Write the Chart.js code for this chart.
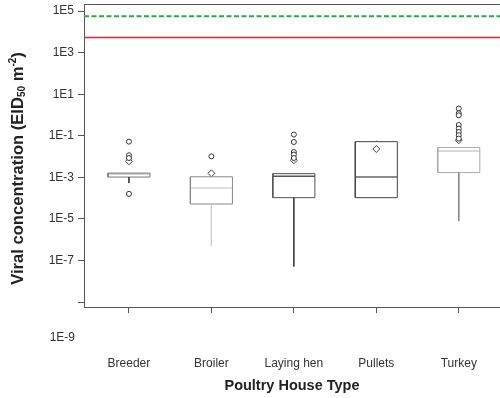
<!DOCTYPE html>
<html>
<head>
<meta charset="utf-8">
<script src="https://cdn.jsdelivr.net/npm/chart.js@4.4.0/dist/chart.umd.min.js"></script>
<style>
  html, body { margin: 0; padding: 0; background: #fff; }
  #wrap { width: 500px; height: 398px; position: relative; }
</style>
</head>
<body>
<div id="wrap"><canvas id="boxChart"></canvas></div>
<script>
// values (EID50 per m2)
const houseTypes = ['Breeder', 'Broiler', 'Laying hen', 'Pullets', 'Turkey'];
const q1 = [1.03e-3, 5.2e-5, 1.05e-4, 1.05e-4, 1.69e-3];
const q3 = [1.6e-3, 1.06e-3, 1.5e-3, 0.052, 0.027];
const medians = [1.45e-3, 3.05e-4, 1.12e-3, 1.03e-3, 0.0185];
const whiskerLow = [5.3e-4, 4.9e-7, 5.1e-8, 1.05e-4, 7.8e-6];
const whiskerHigh = [1.6e-3, 1.06e-3, 1.5e-3, 0.059, 0.027];
const means = [0.0059, 1.56e-3, 0.0066, 0.023, 0.061];
const outliers = [
    [0.052, 0.0115, 0.0085, 1.6e-4],
    [0.0102],
    [0.114, 0.05, 0.0165, 0.0124, 0.0085],
    [],
    [2.05, 1.2, 0.96, 0.33, 0.22, 0.152, 0.106, 0.073]
];
const greenLevel = 5.6e4;
const redLevel = 5.4e3;
const yTicks = [1e-9, 1e-7, 1e-5, 1e-3, 1e-1, 1e1, 1e3, 1e5];

// styling
const boxColor = ['#777', '#888', '#555', '#444', '#aaa'];
const medianColor = ['#ccc', '#d6d6d6', '#555', '#666', '#ccc'];
const whiskerColor = ['#444', '#ccc', '#444', '#666', '#888'];
const halfW = 0.255;
const xMin = -0.545, xMax = 4.5;
const fontFam = '"Liberation Sans", Arial, sans-serif';

const line = (pts, color, width, dash) => ({
    type: 'scatter', showLine: true, data: pts,
    borderColor: color, borderWidth: width || 1, borderDash: dash || [],
    pointRadius: 0, tension: 0, fill: false
});

const datasets = [];
datasets.push(line([{x: xMin, y: greenLevel}, {x: xMax, y: greenLevel}], '#22b046', 2, [5, 2.5]));
datasets.push(line([{x: xMin, y: redLevel}, {x: xMax, y: redLevel}], '#d42a2a', 1.5));

houseTypes.forEach((name, i) => {
    // whiskers
    datasets.push(line([{x: i, y: q1[i]}, {x: i, y: whiskerLow[i]}], whiskerColor[i], 1));
    datasets.push(line([{x: i, y: q3[i]}, {x: i, y: whiskerHigh[i]}], whiskerColor[i], 1));
    // box
    datasets.push(line([
        {x: i - halfW, y: q1[i]}, {x: i + halfW, y: q1[i]},
        {x: i + halfW, y: q3[i]}, {x: i - halfW, y: q3[i]},
        {x: i - halfW, y: q1[i]}
    ], boxColor[i], 1));
    // median
    datasets.push(line([{x: i - halfW, y: medians[i]}, {x: i + halfW, y: medians[i]}], medianColor[i], 1.5));
    // outliers
    datasets.push({
        type: 'scatter',
        data: outliers[i].map(v => ({x: i, y: v})),
        pointStyle: 'circle', pointRadius: 2.5, pointBorderWidth: 1,
        borderColor: '#333', backgroundColor: '#fff'
    });
    // mean
    datasets.push({
        type: 'scatter',
        data: [{x: i, y: means[i]}],
        pointStyle: 'rectRot', pointRadius: 3.5, pointBorderWidth: 1,
        borderColor: '#444', backgroundColor: '#fff'
    });
});

const extras = {
    id: 'extras',
    afterDraw(chart) {
        const ctx = chart.ctx;
        const area = chart.chartArea;
        ctx.save();
        // top frame line
        ctx.strokeStyle = '#555';
        ctx.lineWidth = 1;
        ctx.beginPath();
        ctx.moveTo(area.left, area.top + 0.5);
        ctx.lineTo(area.right, area.top + 0.5);
        ctx.stroke();

        // stray 1E-9 label sitting below the axis
        ctx.fillStyle = '#333';
        ctx.font = '12px ' + fontFam;
        ctx.textAlign = 'right';
        ctx.textBaseline = 'middle';
        ctx.fillText('1E-9', 75, 338);

        // y title with subscript and superscript
        const big = 'bold 16.6px ' + fontFam;
        const small = 'bold 10px ' + fontFam;
        const parts = [
            {t: 'Viral concentration (EID', f: big, dy: 0},
            {t: '50', f: small, dy: 2},
            {t: ' m', f: big, dy: 0},
            {t: '-2', f: small, dy: -7},
            {t: ')', f: big, dy: 0}
        ];
        let total = 0;
        parts.forEach(p => { ctx.font = p.f; p.w = ctx.measureText(p.t).width; total += p.w; });
        ctx.translate(23, 168.5);
        ctx.rotate(-Math.PI / 2);
        ctx.textAlign = 'left';
        ctx.textBaseline = 'alphabetic';
        ctx.fillStyle = '#222';
        let x = -total / 2;
        parts.forEach(p => {
            ctx.font = p.f;
            ctx.fillText(p.t, x, p.dy);
            x += p.w;
        });
        ctx.restore();
    }
};

new Chart(document.getElementById('boxChart'), {
    type: 'scatter',
    data: { datasets },
    options: {
        responsive: true,
        maintainAspectRatio: false,
        animation: false,
        layout: { autoPadding: false, padding: { top: 4, right: 0, left: 0, bottom: 0 } },
        plugins: { legend: { display: false }, tooltip: { enabled: false } },
        scales: {
            x: {
                type: 'linear',
                min: xMin, max: xMax,
                afterBuildTicks: s => { s.ticks = houseTypes.map((c, i) => ({value: i})); },
                afterFit: s => { s.height = 91; s.paddingLeft = 0; s.paddingRight = 0; },
                grid: { drawOnChartArea: false, tickLength: 6, tickColor: '#555' },
                border: { color: '#555', width: 1 },
                ticks: {
                    autoSkip: false, maxRotation: 0, padding: 43,
                    color: '#333',
                    font: { family: fontFam, size: 12 },
                    callback: v => houseTypes[v]
                },
                title: {
                    display: true, text: 'Poultry House Type', color: '#222',
                    font: { family: fontFam, size: 14.5, weight: 'bold' },
                    padding: { top: 0, bottom: 3 }
                }
            },
            y: {
                type: 'logarithmic',
                min: Math.pow(10, -9.24), max: Math.pow(10, 5.34),
                afterBuildTicks: s => { s.ticks = yTicks.map(v => ({value: v})); },
                afterFit: s => { s.width = 84; s.paddingTop = 0; s.paddingBottom = 0; },
                grid: { drawOnChartArea: false, tickLength: 6, tickColor: '#555' },
                border: { color: '#555', width: 1 },
                ticks: {
                    padding: 4, color: '#333',
                    font: { family: fontFam, size: 12 },
                    callback: v => v === 1e-9 ? '' : '1E' + Math.round(Math.log10(v))
                }
            }
        }
    },
    plugins: [extras]
});
</script>
</body>
</html>
